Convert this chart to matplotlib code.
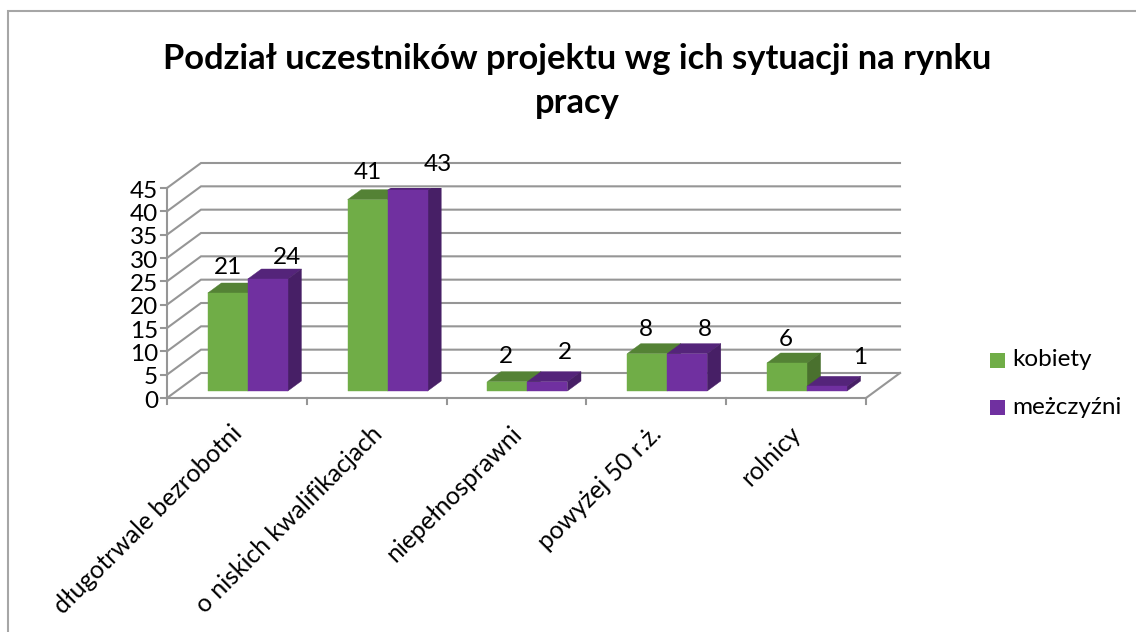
import matplotlib
matplotlib.use('Agg')
import matplotlib.pyplot as plt
from matplotlib.patches import Polygon, Rectangle

categories = ['długotrwale bezrobotni', 'o niskich kwalifikacjach',
              'niepełnosprawni', 'powyżej 50 r.ż.', 'rolnicy']
kobiety = [21, 41, 2, 8, 6]
mezczyzni = [24, 43, 2, 8, 1]
series_names = ['kobiety', 'meżczyźni']
y_ticks = [0, 5, 10, 15, 20, 25, 30, 35, 40, 45]
title = 'Podział uczestników projektu wg ich sytuacji na rynku\npracy'

W, H = 1136, 632
plt.rcParams['font.family'] = ['Lato', 'DejaVu Sans']

GREEN = ('#70ad47', '#548235', '#4a712e')
PURPLE = ('#7030a0', '#54247a', '#471f66')
GRID = '#969696'
FS = 17.5
PT = 0.72  # px to points at dpi 100

# one category is 139.8 px wide, one y unit is 4.667 px
DX = 34 / 139.8
DY = 25 / 4.667
BAR_W = 40 / 139.8
D0, D1 = 0.28, 0.68

# label offsets in px from the front face centre, the chart places them unevenly
green_label_dx = [0, 0, -1, -1, -1]
green_label_dy = [26, 27, 25, 24, 24]
purple_label_dx = [19, 30, 18, 18, 33]
purple_label_dy = [22, 26, 29, 24, 29]


def proj(x, y, d):
    # oblique projection: d=0 is the front plane, d=1 the back wall
    return x + d * DX, y + d * DY


def bar3d(ax, x, value, colors):
    x1 = x + BAR_W
    front = [proj(x, 0, D0), proj(x1, 0, D0), proj(x1, value, D0), proj(x, value, D0)]
    top = [proj(x, value, D0), proj(x1, value, D0), proj(x1, value, D1), proj(x, value, D1)]
    side = [proj(x1, 0, D0), proj(x1, 0, D1), proj(x1, value, D1), proj(x1, value, D0)]
    ax.add_patch(Polygon(top, closed=True, fc=colors[1], ec=colors[1], lw=0.3, zorder=3))
    ax.add_patch(Polygon(side, closed=True, fc=colors[2], ec=colors[2], lw=0.3, zorder=3))
    ax.add_patch(Polygon(front, closed=True, fc=colors[0], ec=colors[0], lw=0.3, zorder=3))


def bar_label(ax, x, value, dx, dy):
    cx, cy = proj(x + BAR_W / 2, value, D0)
    ax.annotate(str(value), xy=(cx, cy), xytext=(dx * PT, dy * PT), textcoords='offset points',
                ha='center', va='center', fontsize=FS, color='black', zorder=5,
                annotation_clip=False)


fig = plt.figure(figsize=(W / 100, H / 100), dpi=100)
# only the top and left edges of the frame are in the picture
fig.add_artist(Rectangle((8 / W, -0.01), 1.1, 1 - 11 / H + 0.01, transform=fig.transFigure,
                         fc='none', ec='#a6a6a6', lw=1.5, zorder=-1))

ax = fig.add_axes([167 / W, 1 - 398 / H, 699 / W, 210 / H])
ax.set_xlim(0, 5)
ax.set_ylim(0, 45)
ax.axis('off')

# back wall grid and side wall
for v in y_ticks:
    x0, y0 = proj(0, v, 0)
    x1, y1 = proj(0, v, 1)
    x2, y2 = proj(5, v, 1)
    ax.plot([x0, x1, x2], [y0, y1, y2], color=GRID, lw=1.5, clip_on=False, zorder=1,
            solid_joinstyle='miter')
    ax.plot([x0 - 0.04, x0], [v, v], color=GRID, lw=1.5, clip_on=False, zorder=1)
    ax.annotate(str(v), xy=(0, v), xytext=(-9 * PT, -3 * PT), textcoords='offset points',
                ha='right', va='center', fontsize=FS, color='black', annotation_clip=False)

# floor front edge and right edge
ax.plot([0, 5], [0, 0], color=GRID, lw=1.5, clip_on=False, zorder=2)
ax.plot([5, proj(5, 0, 1)[0]], [0, proj(5, 0, 1)[1]], color=GRID, lw=1.5, clip_on=False, zorder=2)
ax.plot([0, 0], [0, 45], color=GRID, lw=1.5, clip_on=False, zorder=2)
for i in range(6):
    ax.plot([i, i], [0, -1.3], color=GRID, lw=1.5, clip_on=False, zorder=2)

for i, name in enumerate(categories):
    x0 = i + (40.8 - D0 * 34) / 139.8
    x1 = x0 + BAR_W
    # green first, the purple front covers the green side where they touch
    bar3d(ax, x0, kobiety[i], GREEN)
    bar3d(ax, x1, mezczyzni[i], PURPLE)
    bar_label(ax, x0, kobiety[i], green_label_dx[i], green_label_dy[i])
    bar_label(ax, x1, mezczyzni[i], purple_label_dx[i], purple_label_dy[i])
    ax.annotate(name, xy=(i + 0.5, 0), xytext=(1, -23), textcoords='offset points',
                rotation=45, rotation_mode='anchor', ha='right', va='center',
                fontsize=17.8, color='black', annotation_clip=False)

fig.text(577 / W, 1 - 81 / H, title, ha='center', va='center', fontsize=24.8, fontweight='bold',
         color='black', linespacing=1.45)

# legend
for name, c, yp in zip(series_names, (GREEN[0], PURPLE[0]), (360, 407)):
    fig.add_artist(Rectangle((990 / W, 1 - (yp + 7.5) / H), 15 / W, 15 / H, transform=fig.transFigure,
                             fc=c, ec='none'))
    fig.text(1012 / W, 1 - yp / H, name, ha='left', va='center', fontsize=FS, color='black')

fig.savefig('out.png', dpi=100)
